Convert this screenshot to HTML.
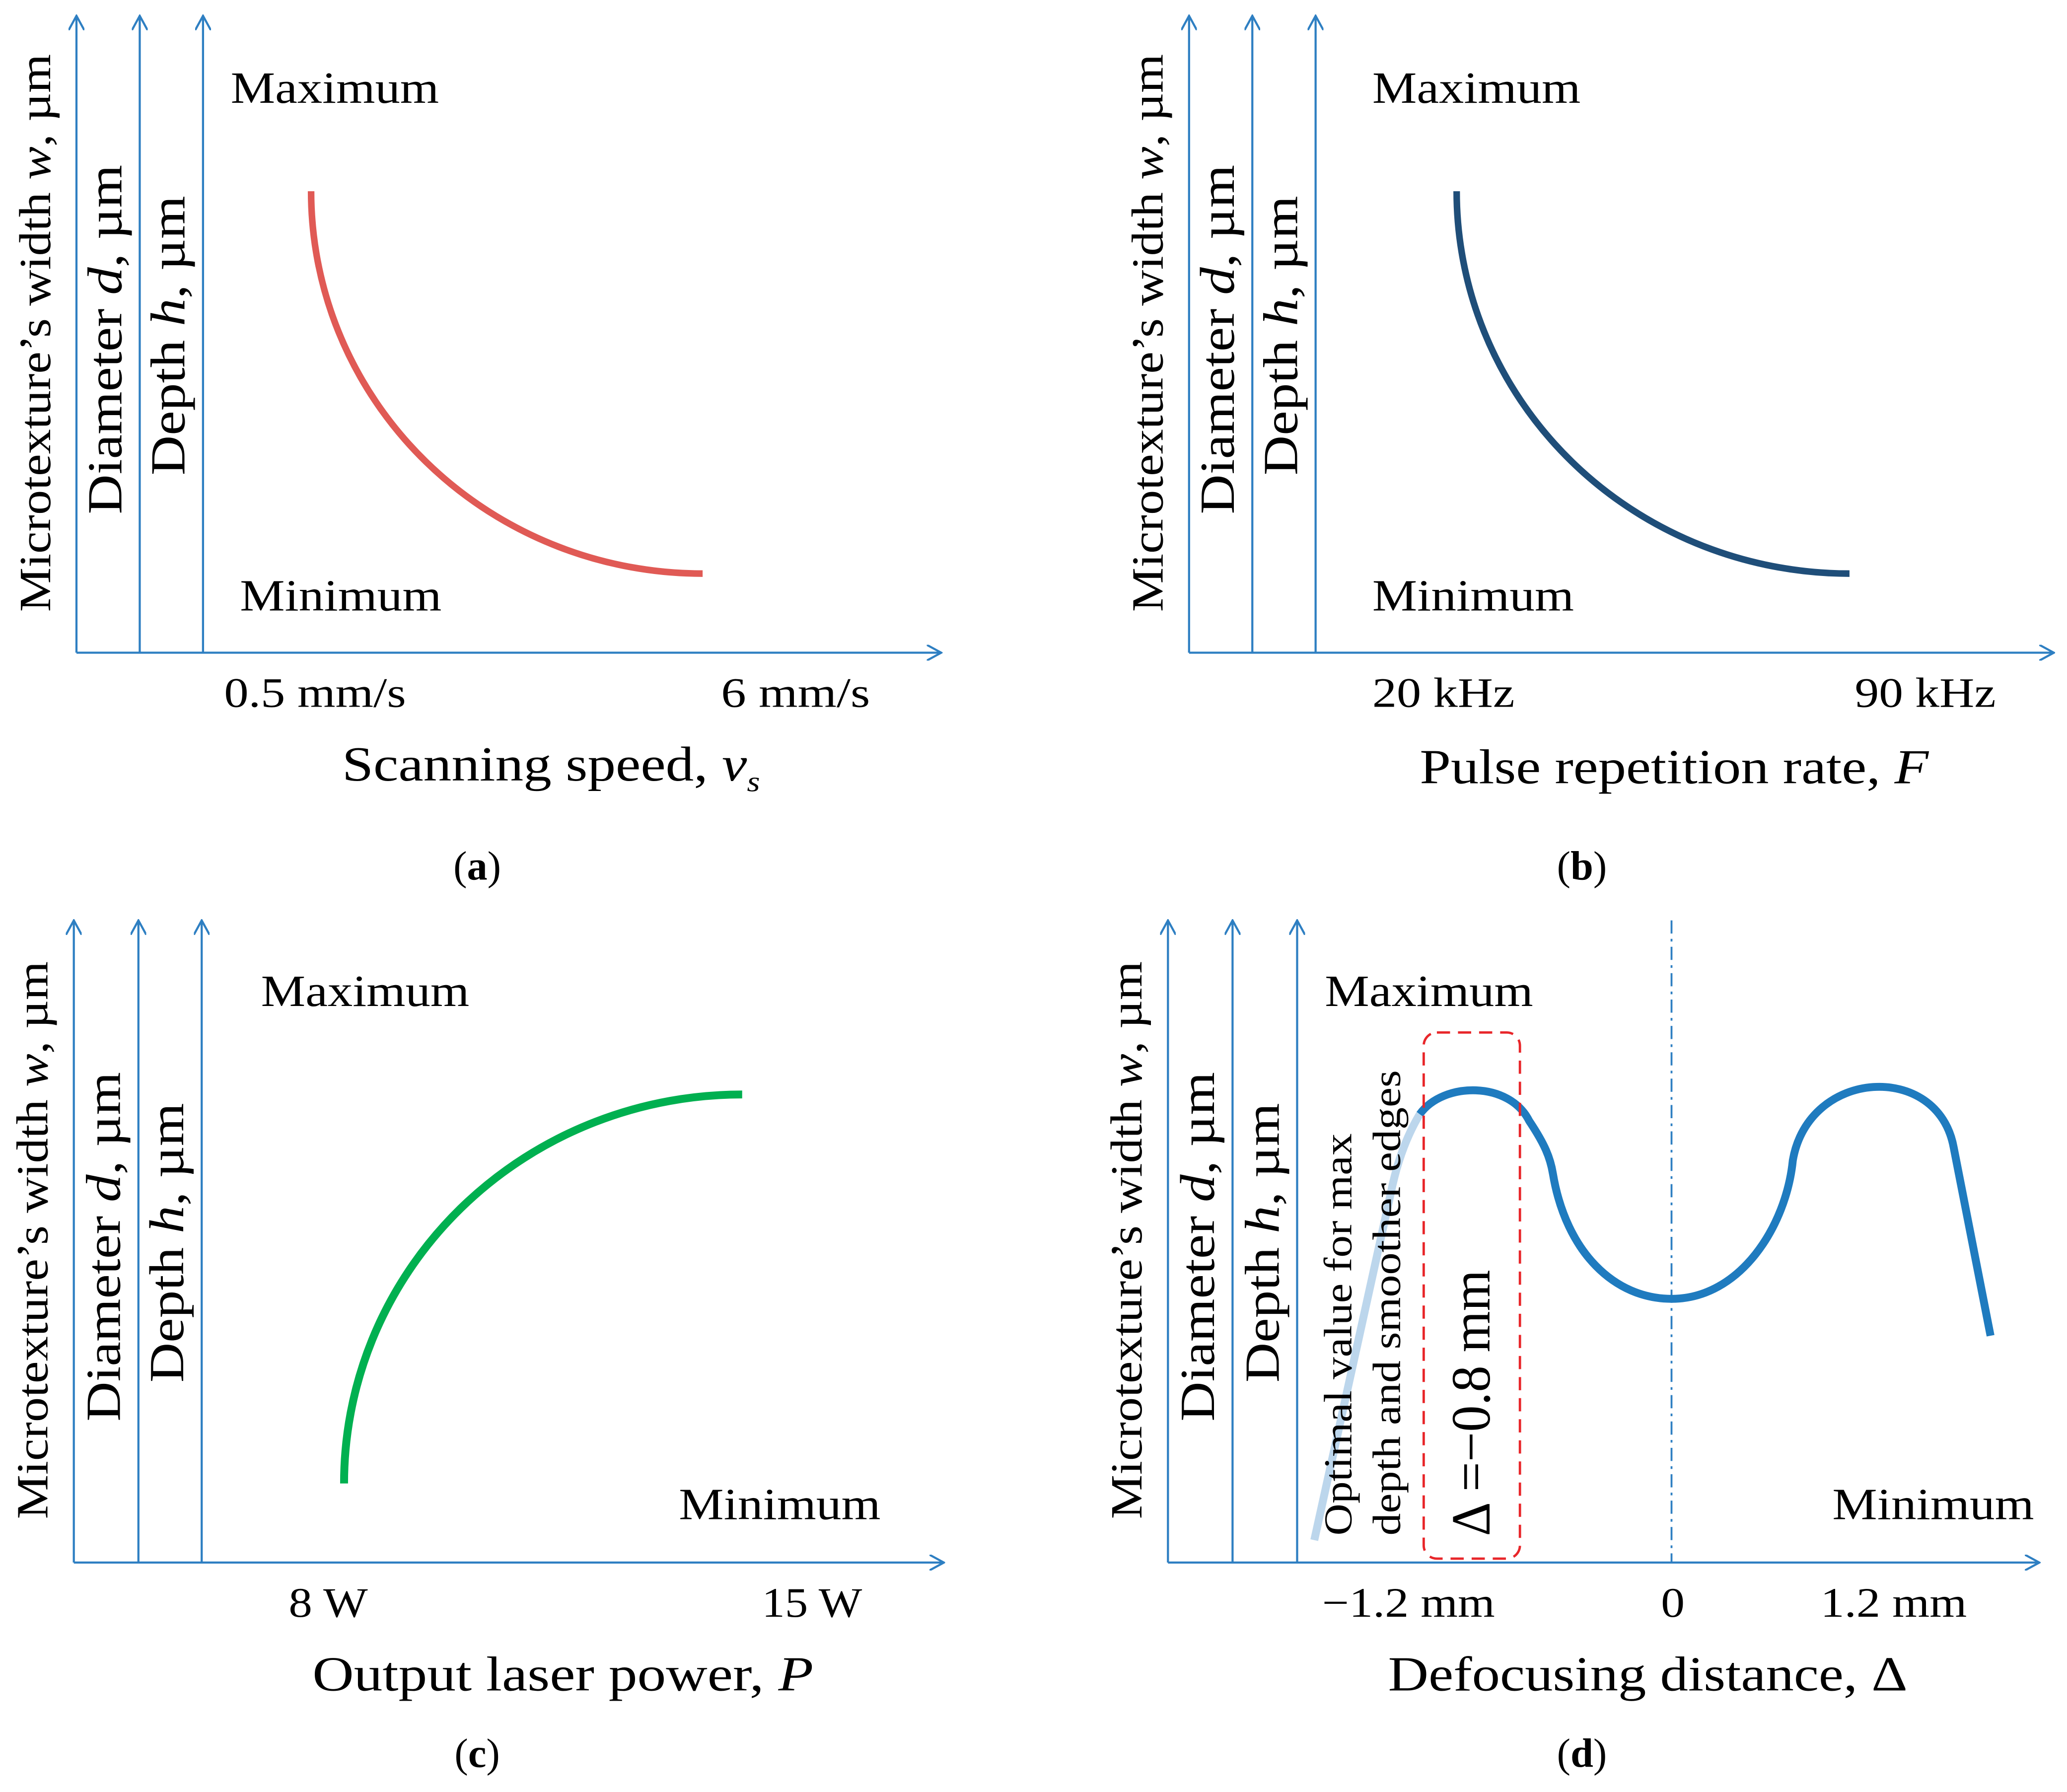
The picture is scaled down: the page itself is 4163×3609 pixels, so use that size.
<!DOCTYPE html>
<html><head><meta charset="utf-8"><style>
html,body{margin:0;padding:0;background:#fff;}
svg{display:block;}
text{font-family:"Liberation Serif",serif;fill:#000;}
</style></head><body>
<svg id="fig" width="4163" height="3609" viewBox="0 0 1568 1359" preserveAspectRatio="none" xmlns="http://www.w3.org/2000/svg">
<defs>
<marker id="ar" viewBox="0 0 12 12" refX="11" refY="6" markerWidth="12" markerHeight="12" markerUnits="userSpaceOnUse" orient="auto">
<path d="M0,0 L11,6 L0,12" fill="none" stroke="#2e7fc2" stroke-width="1.6"/>
</marker>
</defs>
<g id="panels"></g>
</svg>
<script>
const panels=[
 {id:'a',ax:[58,106,154],y0:495,yTop:12,xEnd:714,max:[175,78],min:[182,463],ticks:['0.5 mm/s','6 mm/s'],tx:[170,547],tw:[138,113],ty:536,title:'Scanning speed, <tspan font-style="italic">v</tspan><tspan font-style="italic" font-size="22" dy="8">s</tspan>',tl:317,tcx:418,tcy:592,lab:'a',lx:362,ly:667},
 {id:'b',ax:[902,950,998],y0:495,yTop:12,xEnd:1558,max:[1041,78],min:[1041,463],ticks:['20 kHz','90 kHz'],tx:[1041,1407],tw:[108,107],ty:536,title:'Pulse repetition rate, <tspan font-style="italic">F</tspan>',tl:386,tcx:1270,tcy:594,lab:'b',lx:1200,ly:667},
 {id:'c',ax:[56,105,153],y0:1185,yTop:698,xEnd:716,max:[198,763],min:[515,1152],ticks:['8 W','15 W'],tx:[219,578],tw:[60,76],ty:1226,title:'Output laser power, <tspan font-style="italic">P</tspan>',tl:380,tcx:427,tcy:1282,lab:'c',lx:362,ly:1340},
 {id:'d',ax:[886,935,984],y0:1185,yTop:698,xEnd:1547,max:[1005,763],min:[1390,1152],ticks:['\u22121.2 mm','0','1.2 mm'],tx:[1003,1260,1381],tw:[131,18,111],ty:1226,title:'Defocusing distance, \u0394',tl:394,tcx:1250,tcy:1282,lab:'d',lx:1200,ly:1340}
];
const g=document.getElementById('panels');
const LA='lengthAdjust="spacingAndGlyphs"';
let h='';
panels.forEach(p=>{
 const mid=(p.y0+p.yTop)/2;
 h+=`<g>`;
 p.ax.forEach((x,i)=>{h+=`<line x1="${x}" y1="${p.y0}" x2="${x}" y2="${p.yTop}" stroke="#2e7fc2" stroke-width="1.6" marker-end="url(#ar)"/>`;});
 h+=`<line x1="${p.ax[0]}" y1="${p.y0}" x2="${p.xEnd}" y2="${p.y0}" stroke="#2e7fc2" stroke-width="1.6" marker-end="url(#ar)"/>`;
 h+=`<text font-size="34" text-anchor="middle" textLength="423" ${LA} transform="translate(${p.ax[0]-20},${mid-1}) rotate(-90)">Microtexture’s width <tspan font-style="italic">w</tspan>, µm</text>`;
 h+=`<text font-size="37" text-anchor="middle" textLength="265" ${LA} transform="translate(${p.ax[1]-14},${mid+4}) rotate(-90)">Diameter <tspan font-style="italic">d</tspan>, µm</text>`;
 h+=`<text font-size="37" text-anchor="middle" textLength="212" ${LA} transform="translate(${p.ax[2]-14},${mid+1}) rotate(-90)">Depth <tspan font-style="italic">h</tspan>, µm</text>`;
 h+=`<text font-size="34" textLength="158" ${LA} x="${p.max[0]}" y="${p.max[1]}">Maximum</text>`;
 h+=`<text font-size="34" textLength="153" ${LA} x="${p.min[0]}" y="${p.min[1]}">Minimum</text>`;
 p.ticks.forEach((t,i)=>{h+=`<text font-size="32" textLength="${p.tw[i]}" ${LA} x="${p.tx[i]}" y="${p.ty}">${t}</text>`;});
 h+=`<text font-size="37" text-anchor="middle" textLength="${p.tl}" ${LA} x="${p.tcx}" y="${p.tcy}">${p.title}</text>`;
 h+=`<text font-size="31" text-anchor="middle" x="${p.lx}" y="${p.ly}">(<tspan font-weight="bold">${p.lab}</tspan>)</text>`;
 h+=`</g>`;
});
h+=`<path d="M236,145 A297,290 0 0 0 533,435" fill="none" stroke="#e05a55" stroke-width="5"/>`;
h+=`<path d="M1105,145 A298,290 0 0 0 1403,435" fill="none" stroke="#1f4e79" stroke-width="5"/>`;
h+=`<path d="M261,1125 A302,295 0 0 1 563,830" fill="none" stroke="#00b050" stroke-width="6"/>`;
h+=`<line x1="1268" y1="698" x2="1268" y2="1185" stroke="#2e7fc2" stroke-width="1.4" stroke-dasharray="10,4,2,4"/>`;
h+=`<path d="M997,1168 L1055,905 C1060,880 1068,860 1077,845" fill="none" stroke="#bcd6ec" stroke-width="6"/>`;
h+=`<path d="M1077,845 C1095,820 1145,820 1160,850 C1172,868 1176,878 1178,890 C1188,950 1225,985 1268,985 C1320,985 1355,930 1360,880 C1372,810 1470,805 1482,870 L1510,1013" fill="none" stroke="#1f7bbf" stroke-width="6"/>`;
h+=`<rect x="1080" y="783" width="73" height="399" rx="10" fill="none" stroke="#e8262a" stroke-width="1.8" stroke-dasharray="10,6"/>`;
h+=`<text font-size="30" text-anchor="middle" textLength="305" ${LA} transform="translate(1025,1012) rotate(-90)">Optimal value for max</text>`;
h+=`<text font-size="30" text-anchor="middle" textLength="353" ${LA} transform="translate(1062,988) rotate(-90)">depth and smoother edges</text>`;
h+=`<text font-size="42" text-anchor="middle" textLength="202" ${LA} transform="translate(1130,1064) rotate(-90)">Δ =−0.8 mm</text>`;
g.innerHTML=h;
</script>
</body></html>
